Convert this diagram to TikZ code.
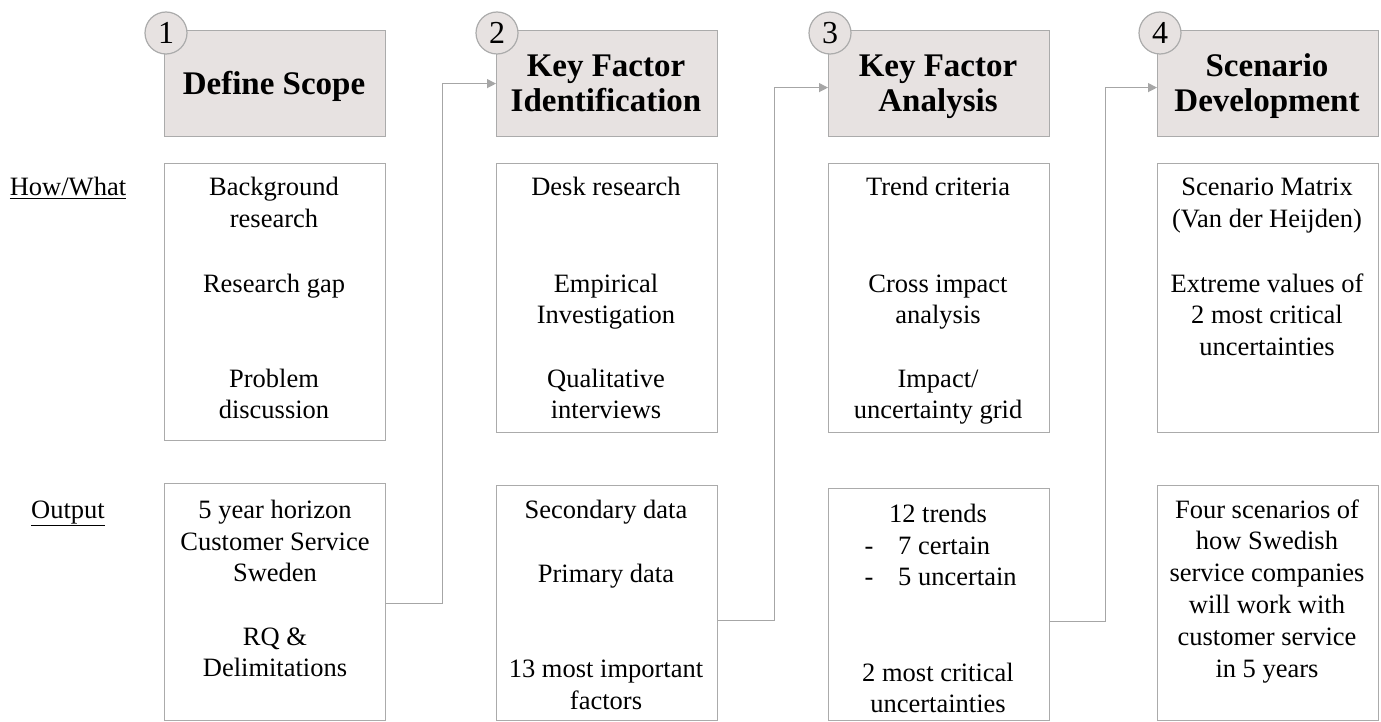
\documentclass[tikz,border=0pt]{standalone}
\usepackage{fontspec}
\setmainfont{Liberation Serif}
\usetikzlibrary{arrows.meta}
\definecolor{hdrfill}{HTML}{E7E2E1}
\definecolor{edge}{HTML}{ABABAB}
\definecolor{linkgray}{HTML}{A6A6A6}

\begin{document}
\begin{tikzpicture}[x=1pt,y=-1pt,
  frame/.style={draw=edge, line width=1.2pt, anchor=north west, inner sep=0pt, minimum width=221pt},
  hdr/.style={frame, fill=hdrfill, minimum height=106pt},
  hdrtxt/.style={anchor=base, inner sep=0pt, font=\fontsize{33}{35}\selectfont\bfseries},
  numc/.style={circle, draw=edge, line width=1.2pt, fill=hdrfill, minimum size=42pt,
               inner sep=0pt, font=\fontsize{32}{34}\selectfont},
  txt/.style={anchor=base, inner sep=0pt, font=\fontsize{26.5}{30}\selectfont},
  txtw/.style={txt, anchor=base west},
  link/.style={draw=linkgray, line width=1.2pt, -{Triangle[length=9pt,width=9pt]}}
]
\useasboundingbox (0,0) rectangle (1381,722);

% phase headers
\node[hdr] (h1) at (164,30) {};
\node[hdr] (h2) at (496,30) {};
\node[hdr] (h3) at (828,30) {};
\node[hdr] (h4) at (1157,30) {};
\node[hdrtxt] (h1a) at (274,95) {Define Scope};
\node[hdrtxt] (h2a) at (606,77) {Key Factor};
\node[hdrtxt] (h2b) at (606,112) {Identification};
\node[hdrtxt] (h3a) at (938,77) {Key Factor};
\node[hdrtxt] (h3b) at (938,112) {Analysis};
\node[hdrtxt] (h4a) at (1267,77) {Scenario};
\node[hdrtxt] (h4b) at (1267,112) {Development};

% step numbers
\node[numc] (n1) at (166,33) {1};
\node[numc] (n2) at (497,33) {2};
\node[numc] (n3) at (830,33) {3};
\node[numc] (n4) at (1160,33) {4};

% row labels
\node[txt] (rowhow) at (68,196) {\underline{How/What}};
\node[txt] (rowout) at (68,518) {\underline{Output}};

% how/what boxes
\node[frame, minimum height=277pt] (m1) at (164,163) {};
\node[frame, minimum height=269pt] (m2) at (496,163) {};
\node[frame, minimum height=269pt] (m3) at (828,163) {};
\node[frame, minimum height=269pt] (m4) at (1157,163) {};

% output boxes
\node[frame, minimum height=237pt] (o1) at (164,483) {};
\node[frame, minimum height=235pt] (o2) at (496,485) {};
\node[frame, minimum height=232pt] (o3) at (828,488) {};
\node[frame, minimum height=235pt] (o4) at (1157,485) {};

% texts, step 1
\node[txt] (t1a) at (274,196) {Background};
\node[txt] (t1b) at (274,227) {research};
\node[txt] (t1c) at (274,292) {Research gap};
\node[txt] (t1d) at (274,387) {Problem};
\node[txt] (t1e) at (274,418) {discussion};
\node[txt] (u1a) at (275,518) {5 year horizon};
\node[txt] (u1b) at (275,550) {Customer Service};
\node[txt] (u1c) at (275,581) {Sweden};
\node[txt] (u1d) at (275,645) {RQ \&};
\node[txt] (u1e) at (275,676) {Delimitations};

% texts, step 2
\node[txt] (t2a) at (606,196) {Desk research};
\node[txt] (t2b) at (606,292) {Empirical};
\node[txt] (t2c) at (606,323) {Investigation};
\node[txt] (t2d) at (606,387) {Qualitative};
\node[txt] (t2e) at (606,418) {interviews};
\node[txt] (u2a) at (606,518) {Secondary data};
\node[txt] (u2b) at (606,582) {Primary data};
\node[txt] (u2c) at (606,677) {13 most important};
\node[txt] (u2d) at (606,709) {factors};

% texts, step 3
\node[txt] (t3a) at (938,196) {Trend criteria};
\node[txt] (t3b) at (938,292) {Cross impact};
\node[txt] (t3c) at (938,323) {analysis};
\node[txt] (t3d) at (938,387) {Impact/};
\node[txt] (t3e) at (938,418) {uncertainty grid};
\node[txt] (u3a) at (938,522) {12 trends};
\node[txt] (u3b) at (869,554) {-};
\node[txtw] (u3c) at (898,554) {7 certain};
\node[txt] (u3d) at (869,585) {-};
\node[txtw] (u3e) at (898,585) {5 uncertain};
\node[txt] (u3f) at (938,681) {2 most critical};
\node[txt] (u3g) at (938,712) {uncertainties};

% texts, step 4
\node[txt] (t4a) at (1267,196) {Scenario Matrix};
\node[txt] (t4b) at (1267,227) {(Van der Heijden)};
\node[txt] (t4c) at (1267,292) {Extreme values of};
\node[txt] (t4d) at (1267,323) {2 most critical};
\node[txt] (t4e) at (1267,355) {uncertainties};
\node[txt] (u4a) at (1267,518) {Four scenarios of};
\node[txt] (u4b) at (1267,549) {how Swedish};
\node[txt] (u4c) at (1267,581) {service companies};
\node[txt] (u4d) at (1267,613) {will work with};
\node[txt] (u4e) at (1267,645) {customer service};
\node[txt] (u4f) at (1267,677) {in 5 years};

% connectors from each output to the next phase
\draw[link] ([yshift=-1.5pt]o1.east) -- ++(56,0) |- (h2.west);
\draw[link] ([yshift=-17.5pt]o2.east) -- ++(56,0) |- ([yshift=-4pt]h3.west);
\draw[link] ([yshift=-17pt]o3.east) -- ++(55,0) |- ([yshift=-4pt]h4.west);
\end{tikzpicture}
\end{document}
